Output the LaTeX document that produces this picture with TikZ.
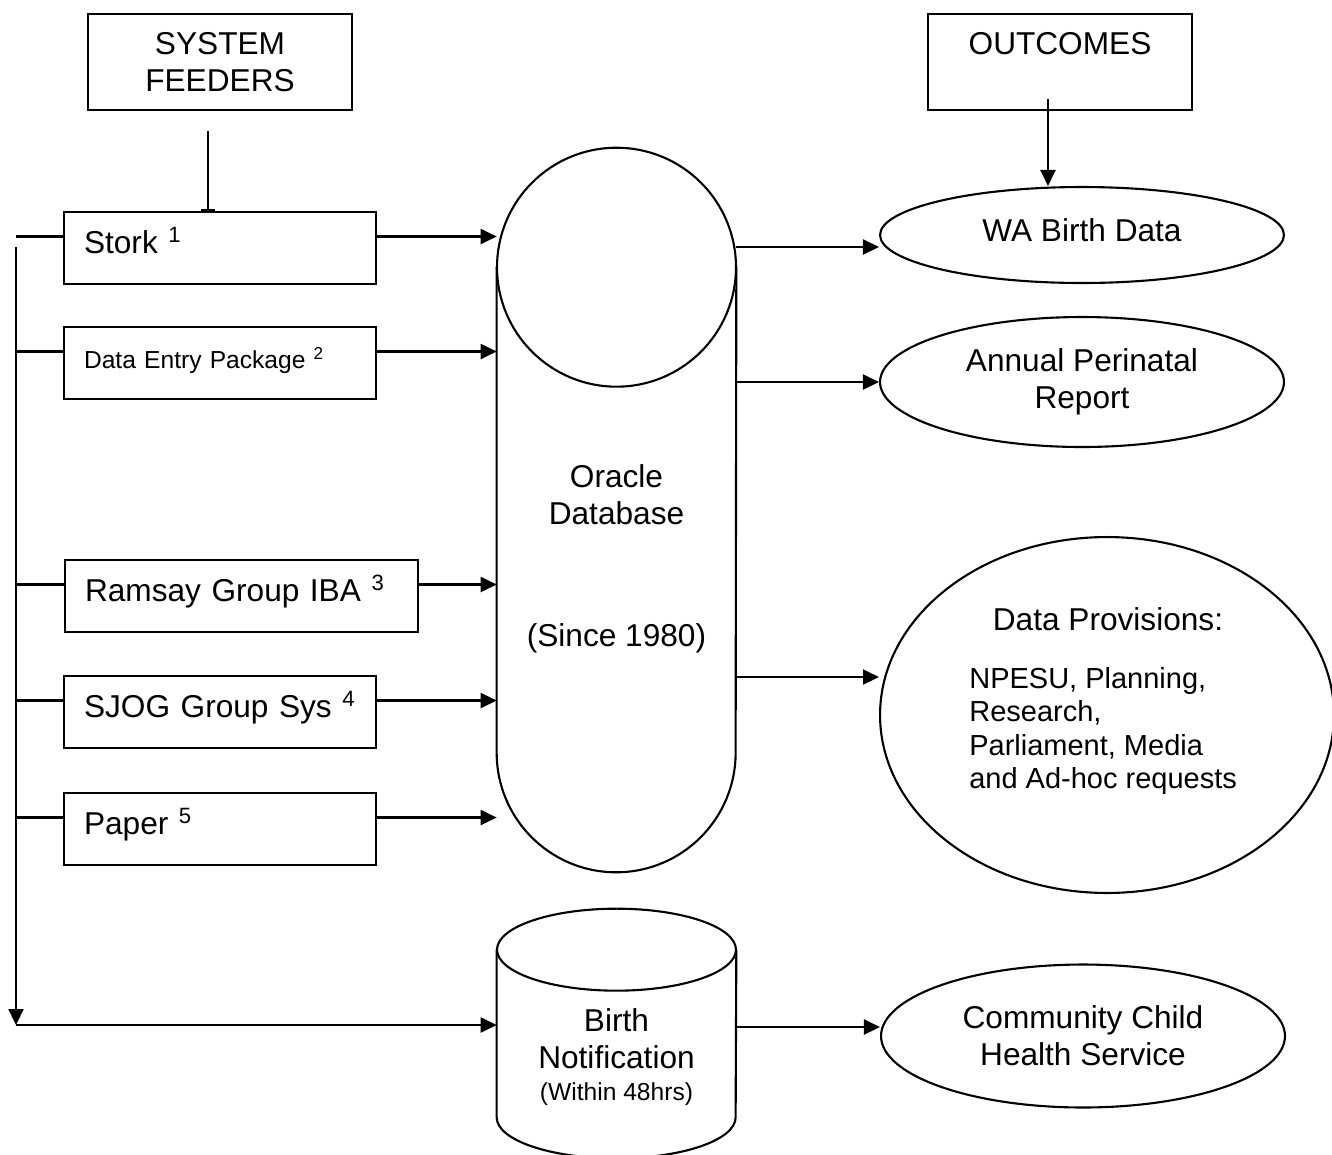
\documentclass[tikz,border=0pt]{standalone}
\usepackage{fontspec}
\setmainfont{Liberation Sans}
\usetikzlibrary{arrows.meta,shapes.geometric}
\def\bigtext{\fontsize{18}{21}\selectfont}
\def\smalltext{\fontsize{14}{17}\selectfont}
\tikzset{
	every node/.style={font=\bigtext},
	wire/.style={line width=1.2pt},
	arr/.style={line width=1.2pt, -{Triangle[length=0.32cm,width=0.3cm]}},
	head/.style={draw, line width=1.2pt, minimum width=5.28cm, minimum height=1.92cm, inner sep=0pt, align=center},
	feeder/.style={draw, line width=1.2pt, minimum height=1.44cm, inner xsep=0.4cm, inner ysep=0pt, align=left, text height=0.5cm, text depth=0.28cm},
	outcome/.style={draw, ellipse, line width=1.2pt, inner sep=0pt, align=center},
	shell/.style={minimum width=4.78cm, inner sep=0pt},
	txt/.style={inner sep=0pt, align=center}
}

\begin{document}
\begin{tikzpicture}[x=0.02cm, y=-0.02cm]
			%%%%% START %%%%%
			\useasboundingbox (0, 0) rectangle (1332, 1154);
			
			\node[head] (feeders) at (220, 62) {SYSTEM\\FEEDERS};
			\node[head] (outcomes) at (1060, 62) {OUTCOMES\\\mbox{}};
			
			\node[feeder, text width=5.44cm] (stork) at (220, 248) {Stork \textsuperscript{1}};
			\node[feeder, text width=5.44cm, font=\smalltext] (dep) at (220, 363) {Data Entry Package \textsuperscript{2}};
			\node[feeder, text width=6.26cm] (ramsay) at (241.5, 596) {Ramsay Group IBA \textsuperscript{3}};
			\node[feeder, text width=5.44cm] (sjog) at (220, 712) {SJOG Group Sys \textsuperscript{4}};
			\node[feeder, text width=5.44cm] (paper) at (220, 829) {Paper \textsuperscript{5}};
			
			% oracle database
			\node[shell, minimum height=14.48cm] (oracle) at (616.5, 510) {};
			\draw[wire] ([yshift=-2.39cm]oracle.north) circle[radius=2.39cm];
			\draw[wire] ([yshift=-2.39cm]oracle.north west) -- ([yshift=2.39cm]oracle.south west) arc[start angle=180, end angle=360, radius=2.39cm] -- ([yshift=-2.39cm]oracle.north east);
			\node[txt] (oracletxt) at (616.5, 558.5) {Oracle\\Database\\[1.7cm](Since 1980)};
			
			% birth notification
			\node[shell, minimum height=4.98cm] (birth) at (616.5, 1033.5) {};
			\draw[wire] ([yshift=-0.82cm]birth.north) ellipse[x radius=2.39cm, y radius=0.82cm];
			\draw[wire] ([yshift=-0.82cm]birth.north west) -- ([yshift=0.82cm]birth.south west) arc[start angle=180, end angle=360, x radius=2.39cm, y radius=0.82cm] -- ([yshift=-0.82cm]birth.north east);
			\node[txt] (birthtxt) at (616.5, 1057) {Birth\\Notification\\[-3pt]{\smalltext (Within 48hrs)}};
			
			% outcomes
			\node[outcome, minimum width=8.08cm, minimum height=1.92cm, text depth=0.2cm] (wabirth) at (1082, 235) {WA Birth Data};
			\node[outcome, minimum width=8.08cm, minimum height=2.6cm] (annual) at (1082, 382) {Annual Perinatal\\Report};
			\node[outcome, minimum width=9.08cm, minimum height=7.12cm] (dataprov) at (1107, 715) {};
			\node[txt] (dptitle) at (1108, 619) {Data Provisions:};
			\node[txt, anchor=west, align=left, font=\fontsize{16.5}{19.1}\selectfont] (dpbody) at (969, 731) {NPESU, Planning,\\Research,\\Parliament, Media\\and Ad-hoc requests};
			\node[outcome, minimum width=8.08cm, minimum height=2.86cm] (community) at (1083, 1036) {Community Child\\Health Service};
			
			% feeders
			\coordinate (fd) at ([shift={(-12,20)}]feeders.south);
			\draw[wire, -{Bar[width=0.28cm]}] (fd) -- (fd |- stork.north);
			\coordinate (trunk) at (16, 247);
			\coordinate (trunkend) at (16, 1025);
			\draw[arr] (trunk) -- (trunkend);
			\draw[arr] (trunkend) -- (trunkend -| birth.west);
			\foreach \f in {stork,dep,ramsay,sjog,paper}{
				\coordinate (w) at ([yshift=0.23cm]\f.west);
				\coordinate (e) at ([yshift=0.23cm]\f.east);
				\draw[wire] (w) -- (w -| trunk);
				\draw[arr] (e) -- (e -| oracle.west);
			}
			
			% results
			\coordinate (oc) at ([shift={(-12,-12)}]outcomes.south);
			\draw[arr] (oc) -- (oc |- wabirth.north);
			\coordinate (wa) at ([yshift=-0.24cm]wabirth.west);
			\draw[arr] (oracle.east |- wa) -- (wa);
			\draw[arr] (oracle.east |- annual.west) -- (annual.west);
			\coordinate (dp) at ([yshift=0.76cm]dataprov.west);
			\draw[arr] (oracle.east |- dp) -- (dp);
			\coordinate (cc) at ([yshift=0.18cm]community.west);
			\draw[arr] (birth.east |- cc) -- (cc);
			%%%%% END %%%%%
\end{tikzpicture}
\end{document}
